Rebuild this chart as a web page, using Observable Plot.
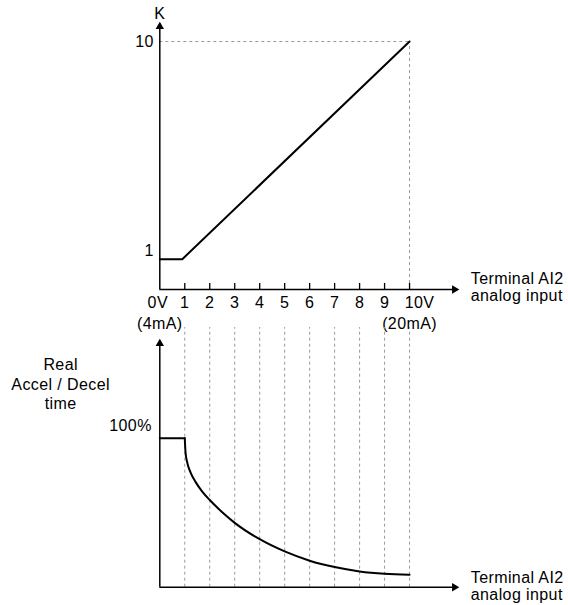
<!DOCTYPE html>
<html>
<head>
<meta charset="utf-8">
<script src="https://cdn.jsdelivr.net/npm/d3@7"></script>
<script src="https://cdn.jsdelivr.net/npm/@observablehq/plot@0.6"></script>
<style>
  html, body { margin: 0; padding: 0; background: white; }
  #wrap { position: relative; width: 568px; height: 605px; }
  #topChart, #bottomChart { position: absolute; left: 0; }
  #topChart { top: 0; }
  #bottomChart { top: 320px; }
</style>
</head>
<body>
<div id="wrap"><div id="topChart"></div><div id="bottomChart"></div></div>
<script>
// ---- data ----
const tickValues = [0, 1, 2, 3, 4, 5, 6, 7, 8, 9, 10];
const tickLabels = ["0V", "1", "2", "3", "4", "5", "6", "7", "8", "9", "10V"];
const endLabels = ["(4mA)", "(20mA)"];
const endLabelX = [0, 10];
const kX = [0, 0.9, 10];
const kY = [1, 1, 10];
const kTickLabels = ["1", "10"];
const kTickValues = [1, 10];
const flatX = [0, 1];
const flatY = [100, 100];
const timeX = [1, 1.03, 1.10, 1.23, 1.43, 1.70, 2, 2.5, 3, 4, 5, 6, 7, 8, 9, 10];
const timeY = [100, 90.6, 83.6, 77.1, 70.7, 64.2, 58.5, 50.3, 43.2, 32.2, 24.0, 17.8, 13.5, 10.6, 9, 8.3];
const gridX = [1, 2, 3, 4, 5, 6, 7, 8, 9, 10];
const axisLabel = "Terminal AI2\nanalog input";
const yLabelTop = "K";
const yLabelBottom = "Real\nAccel / Decel\ntime";
const pctLabel = "100%";

// axis extents (data units)
const xMax = 11.92, labelX = 12.45;
const kLo = -0.253, kHi = 10.744, kTick = 0.25;
const tLo = 0, tHi = 165.6, tGridTop = 174.3;

const font = "Liberation Sans";
const fs = 16;
const ls = "0.4px";

const kLine = kX.map((x, i) => ({x, y: kY[i]}));
const flat = flatX.map((x, i) => ({x, y: flatY[i]}));
const curve = timeX.map((x, i) => ({x, y: timeY[i]}));
const ticks = tickValues.map((x, i) => ({x, label: tickLabels[i]}));

const common = {
  width: 568,
  marginLeft: 159.3,
  marginRight: 111,
  style: {fontFamily: font, background: "transparent", overflow: "visible"},
};

function applyLS(svg) {
  svg.querySelectorAll("text").forEach(t => t.style.letterSpacing = ls);
  return svg;
}

const topPlot = Plot.plot({
  ...common,
  height: 340,
  marginTop: 23,
  marginBottom: 51,
  x: {domain: [0, xMax], axis: null},
  y: {domain: [kLo, kHi], axis: null},
  marks: [
    Plot.ruleY([10], {x1: 0, x2: 10, stroke: "#999", strokeDasharray: "3,3", strokeWidth: 1}),
    Plot.ruleX([10], {y1: kLo, y2: 10, stroke: "#999", strokeDasharray: "3,3", strokeWidth: 1}),
    Plot.ruleX(tickValues.slice(1), {y1: kLo, y2: kLo + kTick, stroke: "black", strokeWidth: 1.3}),
    Plot.ruleY([kLo], {x1: 0, x2: xMax, stroke: "black", strokeWidth: 1.5}),
    Plot.ruleX([0], {y1: kLo, y2: kHi, stroke: "black", strokeWidth: 1.5}),
    Plot.dot([{x: xMax, y: kLo}], {x: "x", y: "y", symbol: "triangle2", r: 4, fill: "black", rotate: 90, dx: -3}),
    Plot.dot([{x: 0, y: kHi}], {x: "x", y: "y", symbol: "triangle2", r: 4, fill: "black", dy: 3}),
    Plot.line(kLine, {x: "x", y: "y", stroke: "black", strokeWidth: 2}),
    Plot.text(ticks.slice(1, 10), {x: "x", y: () => kLo, text: "label", dy: 13, fontSize: fs, fill: "black"}),
    Plot.text([ticks[0]], {x: "x", y: () => kLo, text: "label", dy: 13, dx: -2, fontSize: fs, fill: "black"}),
    Plot.text([ticks[10]], {x: "x", y: () => kLo, text: "label", dy: 13, dx: 10, fontSize: fs, fill: "black"}),
    Plot.text(endLabels, {x: (d, i) => endLabelX[i], y: () => kLo, text: d => d, dy: 34, fontSize: fs, fill: "black"}),
    Plot.text([kTickLabels[0]], {x: () => 0, y: () => kTickValues[0], text: d => d, textAnchor: "end", dx: -6, dy: -8, fontSize: fs, fill: "black"}),
    Plot.text([kTickLabels[1]], {x: () => 0, y: () => kTickValues[1], text: d => d, textAnchor: "end", dx: -6, fontSize: fs, fill: "black"}),
    Plot.text([yLabelTop], {x: () => 0, y: () => kHi, text: d => d, dy: -10, fontSize: fs, fill: "black"}),
    Plot.text([axisLabel], {x: () => labelX, y: () => kLo, text: d => d, textAnchor: "start", lineAnchor: "middle", lineHeight: 1.05, dy: -2, fontSize: fs, fill: "black"})
  ]
});

const bottomPlot = Plot.plot({
  ...common,
  height: 285,
  marginTop: 20,
  marginBottom: 18.3,
  x: {domain: [0, xMax], axis: null},
  y: {domain: [tLo, tHi], axis: null},
  marks: [
    Plot.ruleX(gridX, {y1: tLo, y2: tGridTop, stroke: "#999", strokeDasharray: "3,3", strokeWidth: 1}),
    Plot.ruleY([tLo], {x1: 0, x2: xMax, stroke: "black", strokeWidth: 1.5}),
    Plot.ruleX([0], {y1: tLo, y2: tHi, stroke: "black", strokeWidth: 1.5}),
    Plot.dot([{x: xMax, y: tLo}], {x: "x", y: "y", symbol: "triangle2", r: 4, fill: "black", rotate: 90, dx: -3}),
    Plot.dot([{x: 0, y: tHi}], {x: "x", y: "y", symbol: "triangle2", r: 4, fill: "black", dy: 3}),
    Plot.line(flat, {x: "x", y: "y", stroke: "black", strokeWidth: 2}),
    Plot.line(curve, {x: "x", y: "y", stroke: "black", strokeWidth: 2, curve: "monotone-x"}),
    Plot.text([pctLabel], {x: () => 0, y: () => 100, text: d => d, textAnchor: "end", dx: -8, dy: -12, fontSize: fs, fill: "black"}),
    Plot.text([yLabelBottom], {x: () => -3.97, y: () => 136.7, text: d => d, lineAnchor: "middle", lineHeight: 1.22, fontSize: fs, fill: "black"}),
    Plot.text([axisLabel], {x: () => labelX, y: () => tLo, text: d => d, textAnchor: "start", lineAnchor: "middle", lineHeight: 1.05, dy: -1, fontSize: fs, fill: "black"})
  ]
});

document.getElementById("topChart").appendChild(applyLS(topPlot));
document.getElementById("bottomChart").appendChild(applyLS(bottomPlot));
</script>
</body>
</html>
